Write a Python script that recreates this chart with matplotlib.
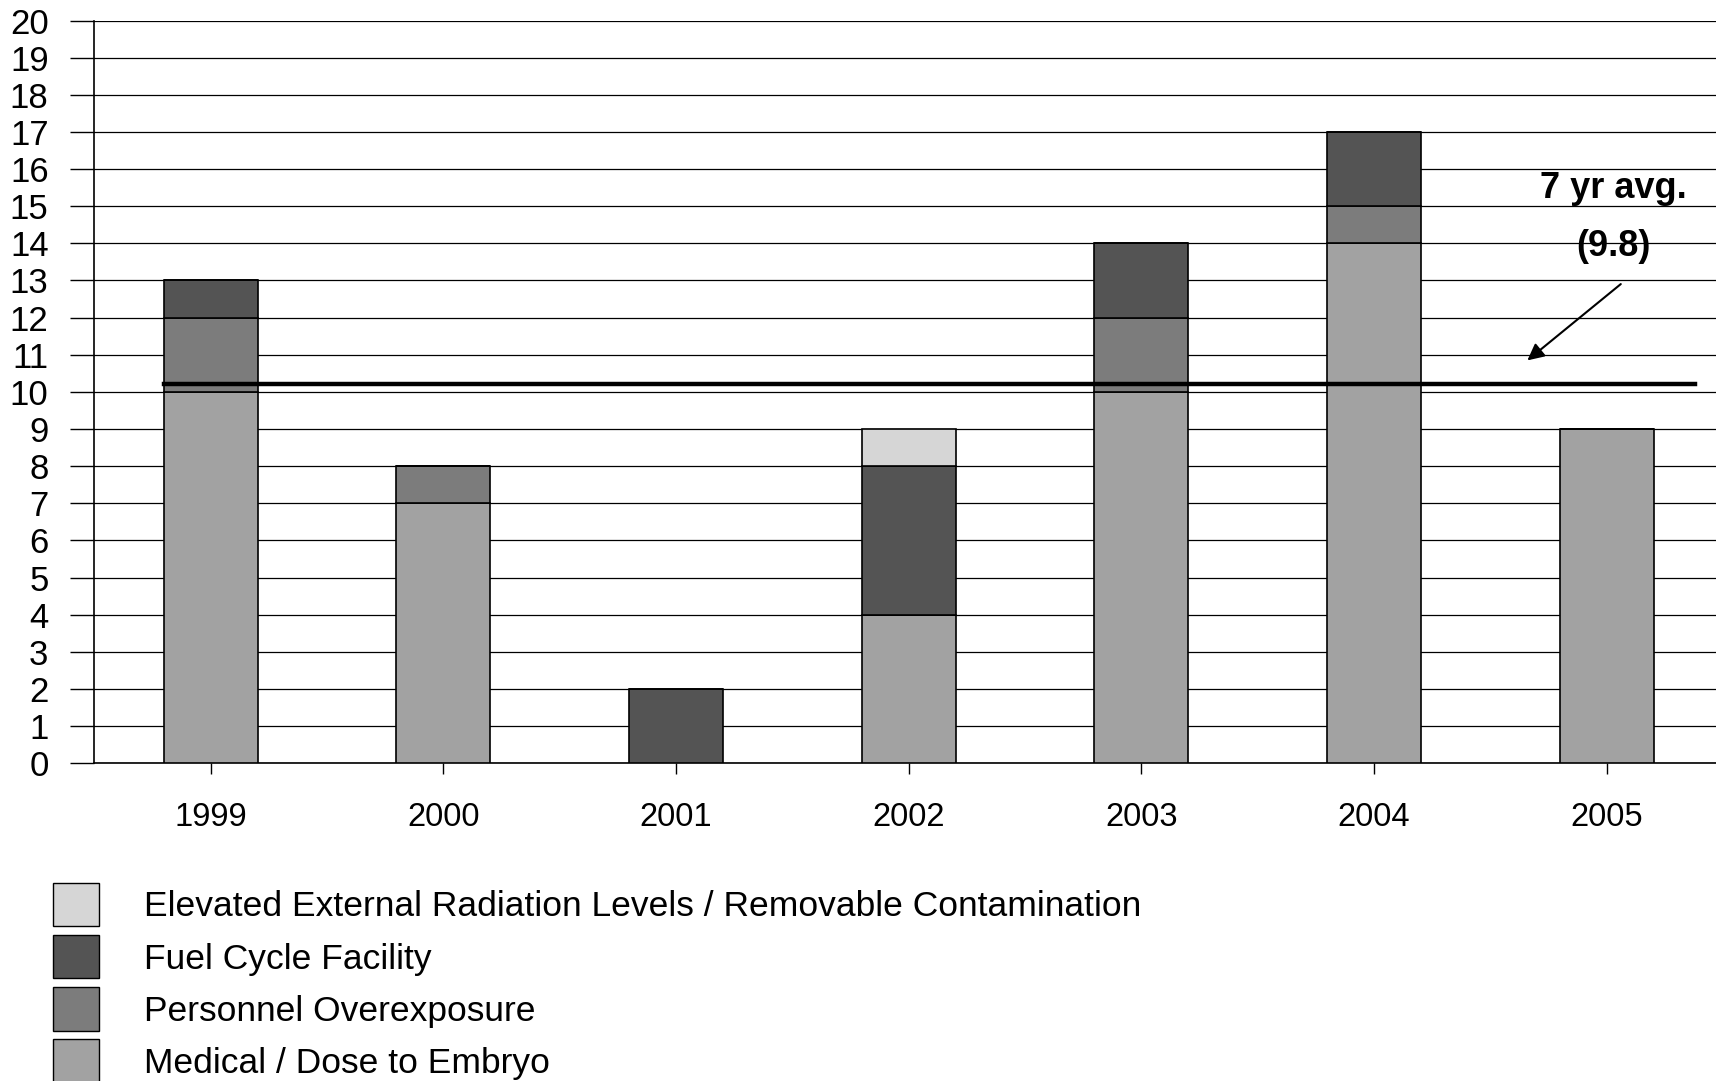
import numpy as np
from matplotlib import pyplot as plt
from matplotlib.patches import Patch

years = ["1999", "2000", "2001", "2002", "2003", "2004", "2005"]
medical = [10, 7, 0, 4, 10, 14, 9]
personnel = [2, 1, 0, 0, 2, 1, 0]
fuel_cycle = [1, 0, 2, 4, 2, 2, 0]
elevated = [0, 0, 0, 1, 0, 0, 0]
avg_value = 10.2   # where the line sits in the chart
avg_label = "7 yr avg.\n(9.8)"

labels = ["Elevated External Radiation Levels / Removable Contamination",
          "Fuel Cycle Facility",
          "Personnel Overexposure",
          "Medical / Dose to Embryo"]
colors = ["#d6d6d6", "#545454", "#7c7c7c", "#a2a2a2"]

plt.rcParams['font.family'] = ['Liberation Sans', 'DejaVu Sans']

fig = plt.figure(figsize=(17.16, 10.81), dpi=100)
ax = fig.add_axes([0.055, 0.294, 0.945, 0.687])

x = np.arange(len(years))
width = 0.405
series = [medical, personnel, fuel_cycle, elevated]
series_colors = [colors[3], colors[2], colors[1], colors[0]]
bottom = np.zeros(len(years))
for vals, c in zip(series, series_colors):
    vals = np.array(vals, dtype=float)
    ax.bar(x, vals, width, bottom=bottom, color=c, edgecolor="black", linewidth=1.2, zorder=3)
    bottom += vals

# 7 year average line and arrow
ax.plot([x[0] - width / 2, 6.38], [avg_value, avg_value], color="black", lw=3.2, zorder=4)
ax.annotate("", xy=(5.65, 10.8), xytext=(6.07, 12.95),
            arrowprops=dict(arrowstyle="-|>", color="black", lw=1.5, mutation_scale=25), zorder=5)
ax.text(6.03, 14.7, avg_label, ha="center", va="center", fontsize=26, fontweight="bold",
        linespacing=1.85, zorder=5)

ax.set_xlim(-0.5, 6.47)
ax.set_ylim(0, 20)
ax.set_yticks(range(0, 21))
ax.set_xticks(x)
ax.set_xticklabels(years)
ax.yaxis.grid(True, color="black", lw=0.9, zorder=0)
ax.set_axisbelow(True)
ax.tick_params(axis="y", direction="out", length=17, width=1, labelsize=25, pad=16)
ax.tick_params(axis="x", direction="out", length=8, width=1, labelsize=23.5, pad=20)
for s in ["top", "right"]:
    ax.spines[s].set_visible(False)
ax.spines["left"].set_linewidth(1.2)
ax.spines["bottom"].set_linewidth(1.2)

handles = [Patch(facecolor=c, edgecolor="black", linewidth=1) for c in colors]
fig.legend(handles, labels, loc="upper left", bbox_to_anchor=(0.031, 0.183), frameon=False,
           fontsize=25.5, handlelength=1.3, handleheight=1.5, labelspacing=0.25,
           handletextpad=1.25, borderpad=0, borderaxespad=0)

fig.savefig("out.png", dpi=100)
